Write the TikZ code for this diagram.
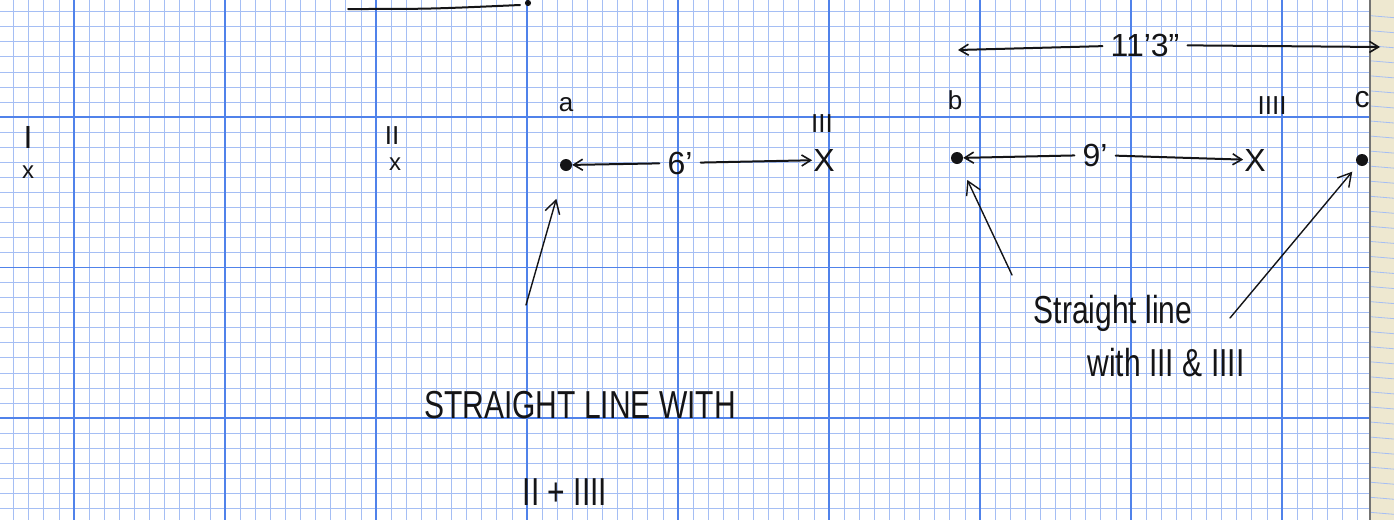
\documentclass[tikz,border=0pt]{standalone}
\usepackage{fontspec}
\setmainfont{Liberation Sans}
\usetikzlibrary{arrows.meta}
\definecolor{gridminor}{RGB}{165,190,244}
\definecolor{gridmajor}{RGB}{80,130,234}
\definecolor{paperedge}{RGB}{238,232,208}
\definecolor{ink}{RGB}{20,20,22}
\newcommand{\tallnote}[1]{\scalebox{1}[1.3]{#1}}
\tikzset{
  ink/.style={draw=ink, line width=2pt, line cap=round},
  thinink/.style={draw=ink, line width=1.4pt, line cap=round},
  inkarrow/.style={ink, -{Straight Barb[length=9pt,width=11pt,line width=1.6pt]}},
  thinarrow/.style={thinink, -{Straight Barb[length=13pt,width=15pt,line width=1.4pt]}},
  dotmark/.style={circle, fill=ink, inner sep=0pt, minimum size=12pt},
  handlabel/.style={text=ink, inner sep=1pt, font=\fontsize{26}{28}\selectfont},
  xmark/.style={text=ink, inner sep=1pt, font=\fontsize{24}{26}\selectfont},
  bigx/.style={text=ink, inner sep=1pt, font=\fontsize{32}{34}\selectfont},
  dimlabel/.style={text=ink, inner sep=8pt, font=\fontsize{32}{34}\selectfont},
  note/.style={text=ink, inner sep=1pt, font=\fontsize{30}{34}\selectfont}
}
\begin{document}
\begin{tikzpicture}[x=1pt,y=-1pt]
\useasboundingbox (0,0) rectangle (1394,520);
\fill[white] (0,0) rectangle (1394,520);
% paper edge strip
\fill[paperedge] (1370,0) rectangle (1394,520);
\foreach \j in {-7,...,26} {
  \draw[gridminor, line width=0.8pt] (1370,{121+15.05*\j}) -- (1394,{123+15.05*\j});
}
% graph paper grid
\begin{scope}
\clip (0,0) rectangle (1370,520);
\foreach \i in {-4,...,85} {
  \draw[gridminor, line width=0.7pt] ({74+15.1*\i},0) -- ({74+15.1*\i},520);
}
\foreach \j in {-7,...,26} {
  \draw[gridminor, line width=0.7pt] (0,{117+15.05*\j}) -- (1370,{117+15.05*\j});
}
\foreach \i in {0,10,...,80} {
  \draw[gridmajor, line width=1.4pt] ({74+15.1*\i},0) -- ({74+15.1*\i},520);
}
\foreach \j in {0,10,20} {
  \draw[gridmajor, line width=1.4pt] (0,{117+15.05*\j}) -- (1370,{117+15.05*\j});
}
\end{scope}
\draw[draw=black!55, line width=1.2pt] (1370,0) -- (1370,520);

% top stroke
\coordinate (topA) at (348,9);
\coordinate (topB) at (520,5);
\draw[ink] (topA) .. controls (430,9) .. (topB);
\fill[ink] (528,3) circle (2pt);

% points and labels
\node[handlabel, font=\fontsize{32}{34}\selectfont] (lI) at (28,137) {I};
\node[xmark] (xI) at (28,172) {x};
\node[handlabel] (lII) at (392,136) {II};
\node[xmark] (xII) at (395,164) {x};

\node[handlabel] (la) at (566,105) {a};
\node[dotmark] (dota) at (566,165) {};
\node[handlabel] (lIII) at (822,124) {III};
\node[bigx] (xIII) at (824,160) {X};

\node[handlabel] (lb) at (955,100) {b};
\node[dotmark] (dotb) at (957,158) {};
\node[handlabel] (lIIII) at (1272,106) {IIII};
\node[bigx] (xIIII) at (1255,160) {X};

\node[handlabel, font=\fontsize{30}{32}\selectfont] (lc) at (1362,100) {c};
\node[dotmark] (dotc) at (1362,160) {};

% 6' dimension
\node[dimlabel] (l6) at (680,163) {6'};
\draw[inkarrow] (l6) -- (dota);
\draw[inkarrow] (l6) -- (xIII);

% 9' dimension
\node[dimlabel] (l9) at (1095,155) {9'};
\draw[inkarrow] (l9) -- (dotb);
\draw[inkarrow] (l9) -- (xIIII);

% 11'3" dimension
\coordinate (dimL) at (958,50);
\coordinate (dimR) at (1380,47);
\node[dimlabel] (l113) at (1145,45) {11'3"};
\draw[inkarrow] (l113) -- (dimL);
\draw[inkarrow] (l113) -- (dimR);

% pointer arrows
\coordinate (ta) at (526,305);
\coordinate (tb) at (1012,275);
\coordinate (tc) at (1230,318);
\draw[thinarrow, shorten >=29pt] (ta) -- (dota);
\draw[thinarrow, shorten >=18pt] (tb) -- (dotb);
\draw[thinarrow, shorten >=9pt] (tc) -- (dotc);

% notes
\node[note] (n1) at (580,405) {\tallnote{STRAIGHT LINE WITH}};
\node[note] (n2) at (565,492) {\tallnote{II + IIII}};
\node[note] (n3) at (1113,313) {\tallnote{Straight line}};
\node[note] (n4) at (1166,363) {\tallnote{with III \& IIII}};
\end{tikzpicture}
\end{document}
